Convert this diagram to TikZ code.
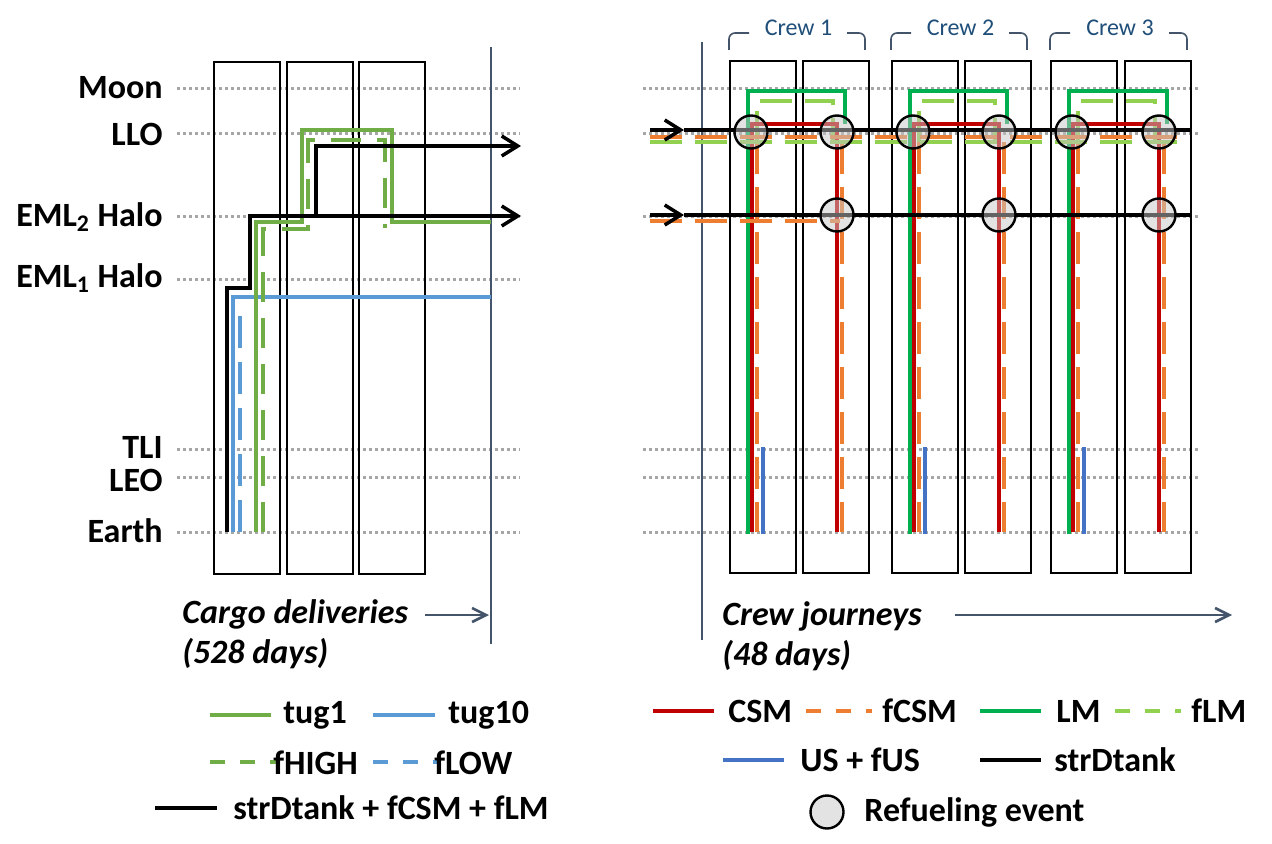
\documentclass[tikz,border=0pt]{standalone}
\usepackage{fontspec}
\setmainfont{Carlito}
\usetikzlibrary{arrows.meta}

\definecolor{tugGreen}{HTML}{70AD47}
\definecolor{tugBlue}{HTML}{5B9BD5}
\definecolor{csmRed}{HTML}{C00000}
\definecolor{fcsmOrange}{HTML}{ED7D31}
\definecolor{lmGreen}{HTML}{00B050}
\definecolor{flmGreen}{HTML}{92D050}
\definecolor{usBlue}{HTML}{4472C4}
\definecolor{slate}{HTML}{44546A}
\definecolor{crewBlue}{HTML}{1F4E79}
\definecolor{levelGray}{HTML}{A6A6A6}

\begin{document}
\begin{tikzpicture}[
    x=0.5pt, y=-0.5pt,
    lvl/.style={draw=levelGray, line width=1.5pt, dash pattern=on 1.5pt off 1.5pt},
    lvltext/.style={anchor=east, inner sep=0pt, font=\fontsize{17}{19}\selectfont\bfseries},
    slot/.style={
        draw,
        line width=0.9pt,
        anchor=north west,
        inner sep=0pt,
        minimum width=33pt,
        minimum height=256pt
    },
    axisline/.style={draw=slate, line width=1.3pt},
    timearrow/.style={axisline, -{Straight Barb[length=7pt,width=7pt]}},
    tank/.style={draw=black, line width=1.75pt},
    tankarrow/.style={tank, -{Straight Barb[length=8pt,width=10pt]}},
    tugone/.style={draw=tugGreen, line width=1.75pt},
    tugten/.style={draw=tugBlue, line width=1.75pt},
    fhigh/.style={tugone, dash pattern=on 15pt off 8pt},
    flow/.style={tugten, dash pattern=on 16pt off 7pt},
    csm/.style={draw=csmRed, line width=1.75pt},
    fcsm/.style={draw=fcsmOrange, line width=1.75pt, dash pattern=on 16pt off 6.5pt},
    lm/.style={draw=lmGreen, line width=1.75pt},
    flm/.style={draw=flmGreen, line width=1.75pt, dash pattern=on 16pt off 6.5pt},
    us/.style={draw=usBlue, line width=1.75pt},
    refuel/.style={circle, draw, line width=1.2pt, minimum size=16.5pt, inner sep=0pt,
        fill=black!22, fill opacity=0.5},
    bracket/.style={draw=slate, line width=0.8pt, rounded corners=3pt},
    crewtext/.style={text=crewBlue, font=\fontsize{12}{14}\selectfont},
    period/.style={anchor=west, inner sep=0pt, font=\fontsize{17}{19}\selectfont\bfseries\itshape},
    legtext/.style={anchor=west, inner sep=0pt, font=\fontsize{17}{19}\selectfont\bfseries},
    legdash/.style={dash pattern=on 7.5pt off 7.5pt}
]
    \useasboundingbox (0,0) rectangle (1272,844);

    % levels
    \foreach \y/\ty/\txt in {89/88/Moon, 134/134/LLO, 217/217/{EML\textsubscript{2} Halo},
        280/278/{EML\textsubscript{1} Halo}, 449/447/TLI, 477/480/LEO, 532/531/Earth} {
        \node[lvltext] (lbl-\y) at (163,\ty) {\txt};
        \draw[lvl] (177,\y) -- (520,\y);
    }
    \foreach \y in {89,134,217,449,477,532}
        \draw[lvl] (643,\y) -- (1199,\y);

    % cargo slots
    \foreach \x [count=\i] in {213,286,358}
        \node[slot] (cargo\i) at (\x,61) {};

    % crew slots
    \foreach \xa/\xb/\n in {729/802/1, 891/964/2, 1050/1124/3} {
        \node[slot] (crew\n-a) at (\xa,60) {};
        \node[slot] (crew\n-b) at (\xb,60) {};
        \draw[bracket] (\xa,50) |- (\xa+20,33);
        \draw[bracket] (\xb+45,33) -| (\xb+63,50);
        \node[crewtext] (crew\n) at ({(\xa+\xb+66)/2},28) {Crew \n};
    }

    % time axes
    \draw[axisline] (491,47) -- (491,644);
    \draw[axisline] (702,42) -- (702,640);
    \node[period] (cargo-txt) at (182,614) {Cargo deliveries};
    \node[period] (cargo-days) at (182,654) {(528 days)};
    \draw[timearrow] (425,615) -- (489,615);
    \node[period] (crew-txt) at (722,616) {Crew journeys};
    \node[period] (crew-days) at (722,656) {(48 days)};
    \draw[timearrow] (955,615) -- (1232,615);

    % cargo deliveries
    \draw[tugten] (233,532) |- (491,297);
    \draw[flow] (240,532) -- (240,306);
    \draw[tugone] (256,532) |- (302,222) |- (392,130) |- (491,222);
    \draw[fhigh] (263,532) |- (308,229) |- (385,140) -- (385,228);
    \draw[tankarrow] (227,532) |- (250,288) |- (521,216);
    \draw[tankarrow] (316,216) |- (521,146);

    % crew journeys
    \foreach \xa/\xb in {729/802, 891/964, 1050/1124} {
        \draw[lm] (\xa+19,534) |- (\xb+43,91) -- (\xb+43,124);
        \draw[flm] (\xa+28,143) |- (\xb+31,101) -- (\xb+31,143);
        \draw[fcsm] (\xa+28,142) -- (\xa+28,532);
        \draw[fcsm] (\xb+40,142) -- (\xb+40,532);
        \draw[csm] (\xa+23,532) |- (\xb+35,124) -- (\xb+35,532);
        \draw[us] (\xa+34,447) -- (\xa+34,534);
    }
    \draw[fcsm] (650,137) -- (1190,137);
    \draw[flm] (650,142) -- (1190,142);
    \draw[fcsm] (650,221) -- (840,221);
    \draw[tankarrow] (650,130) -- (684,130);
    \draw[tank] (684,130) -- (1192,130);
    \draw[tankarrow] (650,215) -- (684,215);
    \draw[tank] (684,215) -- (1192,215);

    % refueling events
    \foreach \xa/\xb/\n in {729/802/1, 891/964/2, 1050/1124/3} {
        \node[refuel] (refuel\n-a) at (\xa+22,132) {};
        \node[refuel] (refuel\n-b) at (\xb+35,132) {};
        \node[refuel] (refuel\n-c) at (\xb+35,215) {};
    }

    % legend, cargo
    \draw[tugone] (210,715) -- (271,715);
    \node[legtext] (leg-tug1) at (283,715) {tug1};
    \draw[tugten] (373,715) -- (435,715);
    \node[legtext] (leg-tug10) at (448,715) {tug10};
    \draw[fhigh, legdash] (210,762) -- (276,762);
    \node[legtext] (leg-fhigh) at (273,763) {fHIGH};
    \draw[flow, legdash] (373,762) -- (439,762);
    \node[legtext] (leg-flow) at (434,763) {fLOW};
    \draw[tank] (155,808) -- (217,808);
    \node[legtext] (leg-tank) at (233,808) {strDtank + fCSM + fLM};

    % legend, crew
    \draw[csm] (653,711) -- (714,711);
    \node[legtext] (leg-csm) at (728,711) {CSM};
    \draw[fcsm, legdash] (806,711) -- (872,711);
    \node[legtext] (leg-fcsm) at (882,711) {fCSM};
    \draw[lm] (980,711) -- (1041,711);
    \node[legtext] (leg-lm) at (1056,711) {LM};
    \draw[flm, legdash] (1115,711) -- (1181,711);
    \node[legtext] (leg-flm) at (1191,711) {fLM};
    \draw[us] (723,760) -- (784,760);
    \node[legtext] (leg-us) at (800,760) {US + fUS};
    \draw[tank] (980,760) -- (1041,760);
    \node[legtext] (leg-strd) at (1054,760) {strDtank};
    \node[refuel] (leg-refuel) at (827,812) {};
    \node[legtext] (leg-event) at (864,812) {Refueling event};
\end{tikzpicture}
\end{document}
